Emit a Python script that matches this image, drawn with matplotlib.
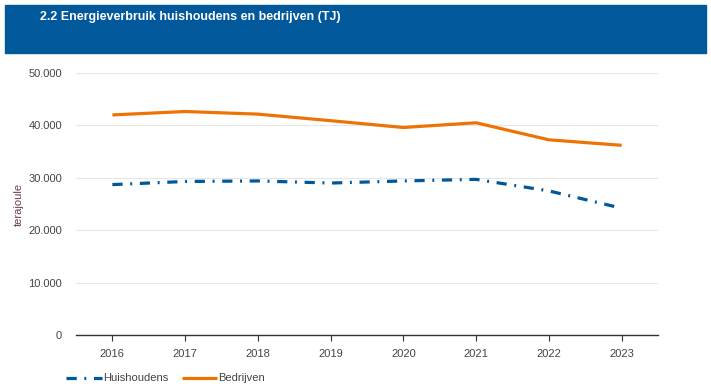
import matplotlib
matplotlib.use("Agg")
import matplotlib.pyplot as plt
from matplotlib.patches import Rectangle

plt.rcParams["font.family"] = ["Liberation Sans", "DejaVu Sans"]

years = [2016, 2017, 2018, 2019, 2020, 2021, 2022, 2023]
huishoudens = [28700, 29300, 29400, 29000, 29400, 29700, 27500, 24200]
bedrijven = [42000, 42650, 42150, 40900, 39600, 40500, 37250, 36200]
yticks = [0, 10000, 20000, 30000, 40000, 50000]
ytick_labels = ["0", "10.000", "20.000", "30.000", "40.000", "50.000"]

blue = "#00579a"
orange = "#ec7404"
grey = "#444444"

W, H = 711, 388
fig = plt.figure(figsize=(W / 100, H / 100), dpi=100)

# header band
fig.patches.append(Rectangle((5 / W, 1 - 53 / H), 701 / W, 48 / H,
                             transform=fig.transFigure, color="#01589b", zorder=0))
fig.text(40 / W, 1 - 17 / H, "2.2 Energieverbruik huishoudens en bedrijven (TJ)",
         color="white", fontsize=9, fontweight="bold", va="center", ha="left")

ax = fig.add_axes([76 / W, 1 - 335 / H, (658 - 76) / W, (335 - 73) / H])
ax.plot(years, huishoudens, color=blue, lw=2.3, dashes=(3.2, 2.4, 0.6, 2.4),
        dash_capstyle="butt", label="Huishoudens")
ax.plot(years, bedrijven, color=orange, lw=2.3, label="Bedrijven",
        solid_capstyle="butt")

ax.set_xlim(2015.5, 2023.5)
ax.set_ylim(0, 50000)
ax.set_xticks(years)
ax.set_xticklabels([str(y) for y in years])
ax.set_yticks(yticks)
ax.set_yticklabels(ytick_labels)
ax.grid(axis="y", color="#e6e6e6", lw=0.8)
ax.set_axisbelow(True)
for s in ["top", "right", "left"]:
    ax.spines[s].set_visible(False)
ax.spines["bottom"].set_color("#333333")
ax.spines["bottom"].set_linewidth(1)
ax.tick_params(axis="y", length=0, labelsize=8, labelcolor=grey, pad=10)
ax.tick_params(axis="x", length=4, color="#333333", labelsize=8, labelcolor=grey, pad=6)
ax.set_ylabel("terajoule", fontsize=8, color="#6e3c44")
ax.yaxis.set_label_coords(-0.09, 0.5)

ax.legend(loc="upper left", bbox_to_anchor=(62 / W, 1 - 369 / H),
          bbox_transform=fig.transFigure, ncol=2, frameon=False,
          fontsize=8, labelcolor=grey, handlelength=3.2, handletextpad=0.1,
          columnspacing=1.2, borderaxespad=0)

fig.savefig("out.png", dpi=100)
